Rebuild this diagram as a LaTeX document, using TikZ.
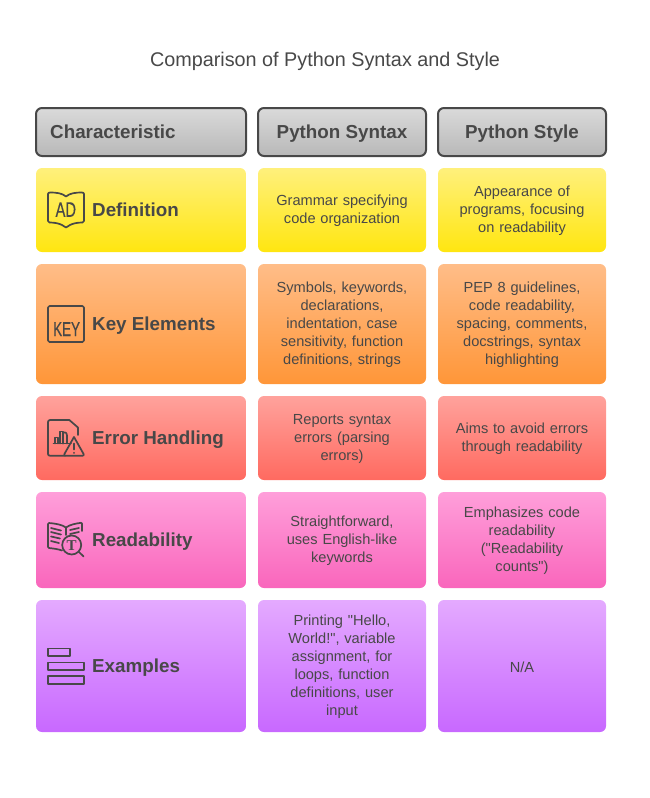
\documentclass[tikz,border=0pt]{standalone}
\usepackage{graphicx}
\usepackage{fontspec}
\setmainfont{Liberation Sans}[Ligatures=TeXOff]
\newfontfamily\iconserif{Liberation Serif}
\newfontfamily\iconsans{Liberation Sans}[FakeBold=0.5]
\definecolor{ink}{HTML}{484848}
\tikzset{
  x=1pt,y=-1pt,
  cellbox/.style={rounded corners=6pt,draw=none},
  headbox/.style={rounded corners=6pt,draw=ink,line width=2pt},
  bodytext/.style={text=ink,font=\fontsize{14.6}{18}\selectfont,align=center,text width=160pt,inner sep=0pt},
  headtext/.style={text=ink,font=\fontsize{18.8}{22}\selectfont\bfseries,anchor=base,inner sep=0pt},
  rowhead/.style={text=ink,font=\fontsize{18.8}{22}\selectfont\bfseries,anchor=base west,inner sep=0pt},
  iconline/.style={draw=ink,line width=1.7pt,line join=round,line cap=round,fill=none},
  iconword/.style={text=ink,inner sep=0pt,anchor=base}
}
\newcommand{\rowcells}[7]{%
  \shade[cellbox,top color=#6,bottom color=#7] (36,#1) rectangle (246,#2);
  \shade[cellbox,top color=#6,bottom color=#7] (258,#1) rectangle (426,#2);
  \shade[cellbox,top color=#6,bottom color=#7] (438,#1) rectangle (606,#2);
  \node[bodytext] (#3a) at (342,{(#1+#2)/2+1}) {#4};
  \node[bodytext] (#3b) at (522,{(#1+#2)/2+1}) {#5};
}
\definecolor{y1}{HTML}{FFF07C}\definecolor{y2}{HTML}{FFE610}
\definecolor{o1}{HTML}{FFBD88}\definecolor{o2}{HTML}{FF9638}
\definecolor{r1}{HTML}{FFA29C}\definecolor{r2}{HTML}{FF6A60}
\definecolor{p1}{HTML}{FF9FDA}\definecolor{p2}{HTML}{F966BC}
\definecolor{v1}{HTML}{E4AAFF}\definecolor{v2}{HTML}{C868FF}
\definecolor{g1}{HTML}{DADADA}\definecolor{g2}{HTML}{B8B8B8}
\begin{document}
\begin{tikzpicture}
\useasboundingbox (0,0) rectangle (650,798);
\node[text=ink,font=\fontsize{19.8}{24}\selectfont,anchor=base,inner sep=0pt] (title) at (325,66.3) {Comparison of Python Syntax and Style};
\shade[headbox,top color=g1,bottom color=g2] (36,108) rectangle (246,156);
\shade[headbox,top color=g1,bottom color=g2] (258,108) rectangle (426,156);
\shade[headbox,top color=g1,bottom color=g2] (438,108) rectangle (606,156);
\node[rowhead] (h1) at (50,138.3) {Characteristic};
\node[headtext] (h2) at (342,138.3) {Python Syntax};
\node[headtext] (h3) at (522,138.3) {Python Style};
\rowcells{168}{252}{d}{Grammar specifying\\code organization}{Appearance of\\programs, focusing\\on readability}{y1}{y2}
\rowcells{264}{384}{k}{Symbols, keywords,\\declarations,\\indentation, case\\sensitivity, function\\definitions, strings}{PEP 8 guidelines,\\code readability,\\spacing, comments,\\docstrings, syntax\\highlighting}{o1}{o2}
\rowcells{396}{480}{e}{Reports syntax\\errors (parsing\\errors)}{Aims to avoid errors\\through readability}{r1}{r2}
\rowcells{492}{588}{r}{Straightforward,\\uses English-like\\keywords}{Emphasizes code\\readability\\("Readability\\counts")}{p1}{p2}
\rowcells{600}{732}{x}{Printing "Hello,\\World!", variable\\assignment, for\\loops, function\\definitions, user\\input}{N/A}{v1}{v2}
\node[rowhead] (l1) at (92,216.3) {Definition};
\node[rowhead] (l2) at (92,330.3) {Key Elements};
\node[rowhead] (l3) at (92,444.3) {Error Handling};
\node[rowhead] (l4) at (92,546.3) {Readability};
\node[rowhead] (l5) at (92,672.3) {Examples};
% Definition icon
\draw[iconline] (48,194) .. controls (48,193) and (49,192.5) .. (50,192.5)
  .. controls (56,192.5) and (62,193) .. (66,196.5)
  .. controls (70,193) and (76,192.5) .. (82,192.5)
  .. controls (83,192.5) and (84,193) .. (84,194)
  -- (84,221) .. controls (84,222) and (83.5,222.5) .. (82.5,222.5)
  .. controls (77,222.5) and (73,223.5) .. (70,225) -- (66,227.5) -- (62,225)
  .. controls (59,223.5) and (55,222.5) .. (49.5,222.5)
  .. controls (48.5,222.5) and (48,222) .. (48,221) -- cycle;
\node[iconword,font=\fontsize{21}{21}\iconsans] (adw) at (65.8,216.8) {\scalebox{.7}[1]{AD}};
% Key Elements icon
\draw[iconline,rounded corners=1.5pt] (48,306) rectangle (84,342);
\node[iconword,font=\fontsize{20}{20}\iconsans] (keyw) at (66.6,336) {\scalebox{.67}[1]{KEY}};
% Error Handling icon
\draw[iconline] (65,455.7) -- (50,455.7) .. controls (48.8,455.7) and (48,455) .. (48,454)
  -- (48,422) .. controls (48,421) and (48.8,420) .. (50,420)
  -- (69.3,420) -- (78,427.5) -- (78,435);
\draw[iconline] (53.5,443.5) -- (71,443.5);
\draw[iconline] (55,443.5) -- (55,437.5) -- (58,437.5) -- (58,443.5);
\draw[iconline] (60,443.5) -- (60,431.5) -- (63,431.5) -- (63,443.5);
\draw[iconline] (63,443.5) -- (63,433) .. controls (65.5,431.5) and (67,433) .. (67,436) -- (67,443.5);
\draw[iconline] (74,437) -- (83.6,454) .. controls (84.2,455) and (83.6,455.7) .. (82.6,455.7)
  -- (65.4,455.7) .. controls (64.4,455.7) and (63.8,455) .. (64.4,454) -- cycle;
\draw[iconline] (74,443.5) -- (74,449.5);
\fill[ink] (74,452.8) circle (1);
% Readability icon
\draw[iconline] (62,550.5) .. controls (58,549) and (53,548.5) .. (49,548)
  -- (48,547) -- (48,524) -- (49,523) .. controls (55,523.5) and (62,524.5) .. (66,527.5)
  .. controls (70,524.5) and (76,523.5) .. (81,522.8) -- (82,523.5) -- (82,531);
\draw[iconline] (66,527.5) -- (66,535);
\draw[iconline] (51,528) -- (61,530.5);
\draw[iconline] (51,532) -- (61,534.5);
\draw[iconline] (51,536.5) -- (60,538.5);
\draw[iconline] (51,541) -- (59,543);
\draw[iconline] (70,530) -- (79,528);
\draw[iconline] (70,534) -- (79,532);
\draw[iconline] (71.7,545) circle (9.5);
\draw[iconline] (78.7,551.7) -- (83.6,556.5);
\node[iconword,font=\fontsize{15}{15}\selectfont\iconserif\bfseries] (tw) at (71.7,550) {T};
% Examples icon
\draw[iconline,line cap=butt] (48,648.5) rectangle (70,656);
\draw[iconline,line cap=butt] (48,662.5) rectangle (84,670);
\draw[iconline,line cap=butt] (48,676.2) rectangle (84,683.8);
\end{tikzpicture}
\end{document}
